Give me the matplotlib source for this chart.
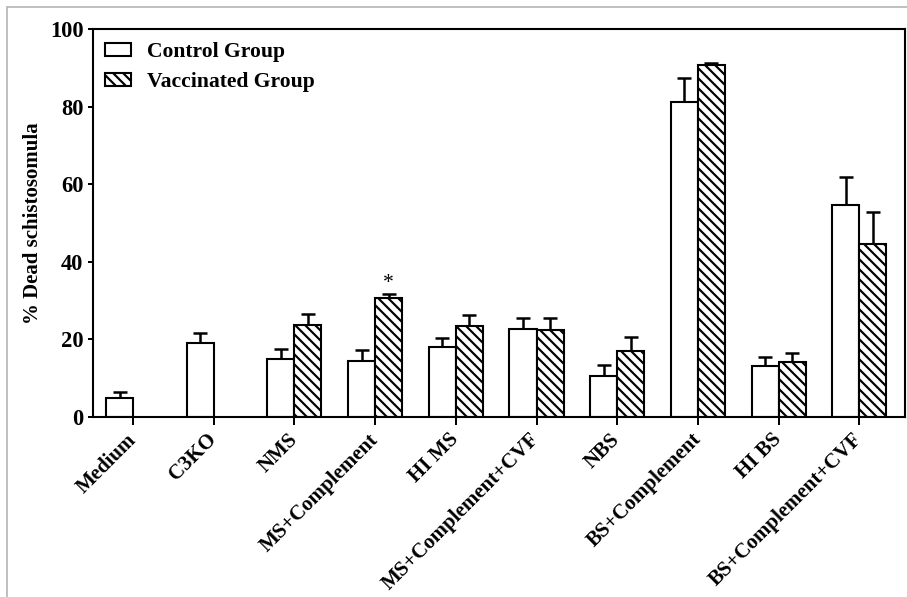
import numpy as np
import matplotlib
matplotlib.use("Agg")
import matplotlib.pyplot as plt
from matplotlib.lines import Line2D

categories = ["Medium", "C3KO", "NMS", "MS+Complement", "HI MS",
              "MS+Complement+CVF", "NBS", "BS+Complement", "HI BS",
              "BS+Complement+CVF"]
control_mean = [5.0, 19.2, 14.9, 14.4, 18.0, 22.6, 10.6, 81.1, 13.2, 54.7]
control_err = [1.4, 2.5, 2.5, 2.9, 2.3, 3.0, 2.7, 6.2, 2.3, 7.1]
vacc_mean = [np.nan, np.nan, 23.6, 30.6, 23.5, 22.5, 17.0, 90.7, 14.3, 44.7]
vacc_err = [np.nan, np.nan, 2.9, 1.0, 2.7, 3.1, 3.5, 0.5, 2.1, 8.1]
yticks = [0, 20, 40, 60, 80, 100]
star_label = "*"
star_index = 3

DPI = 120
BS = chr(92)
plt.rcParams['font.family'] = ['Liberation Serif', 'DejaVu Serif']
plt.rcParams['font.weight'] = 'bold'
plt.rcParams['hatch.linewidth'] = 1.3

fig = plt.figure(figsize=(907 / DPI, 597 / DPI), dpi=DPI)
W, H = 907, 597
ax = fig.add_axes([93 / W, 1 - 417 / H, (905 - 93) / W, (417 - 29) / H])

x = np.arange(len(categories))
w = 0.335
lw = 1.25

ax.bar(x - w / 2, control_mean, w, color='white', edgecolor='black',
       linewidth=lw, label='Control Group', zorder=2)
ax.bar(x + w / 2, vacc_mean, w, color='white', edgecolor='black',
       linewidth=lw, hatch=BS * 4, label='Vaccinated Group', zorder=2)

c_m = np.array(control_mean); c_e = np.array(control_err)
v_m = np.array(vacc_mean); v_e = np.array(vacc_err)
ax.errorbar(x - w / 2, c_m, yerr=[np.zeros_like(c_e), c_e], fmt='none',
            ecolor='black', elinewidth=1.5, capsize=4.0, capthick=1.5, zorder=1)
mask = ~np.isnan(v_m)
ax.errorbar((x + w / 2)[mask], v_m[mask], yerr=[np.zeros(mask.sum()), v_e[mask]],
            fmt='none', ecolor='black', elinewidth=1.5, capsize=4.0, capthick=1.5,
            zorder=1)

ax.text(star_index + w / 2, v_m[star_index] + v_e[star_index] + 0.4, star_label,
        ha='center', va='bottom', fontsize=13, fontweight='normal')

ax.set_xlim(-0.496, 9.566)
ax.set_ylim(0, 100)
ax.set_yticks(yticks)
ax.set_yticklabels([str(t) for t in yticks], fontsize=13.5, fontweight='bold')
ax.set_xticks(x)
ax.set_xticklabels(categories, rotation=45, ha='right', va='center',
                   rotation_mode='anchor', fontsize=12.5, fontweight='bold')
ax.tick_params(axis='y', length=3.2, width=1.2, pad=2.5)
ax.tick_params(axis='x', length=4.8, width=1.2, pad=7)
for s in ax.spines.values():
    s.set_linewidth(1.25)

fig.text(33 / W, 1 - 223 / H, "% Dead schistosomula", rotation=90,
         ha='center', va='center', fontsize=12.5, fontweight='bold')

leg = ax.legend(loc='upper left', bbox_to_anchor=(0.0148, 0.966), frameon=False,
                borderaxespad=0, borderpad=0, handlelength=1.2, handleheight=0.55,
                handletextpad=0.75, labelspacing=0.45,
                prop={'size': 13, 'weight': 'bold'})

# thin gray page border (top and left)
fig.add_artist(Line2D([8 / W, 1], [1 - 7 / H, 1 - 7 / H], transform=fig.transFigure,
                      color='#b4b4b4', linewidth=1.0))
fig.add_artist(Line2D([7 / W, 7 / W], [0, 1 - 7 / H], transform=fig.transFigure,
                      color='#b4b4b4', linewidth=1.0))

fig.savefig("out.png", dpi=DPI)
